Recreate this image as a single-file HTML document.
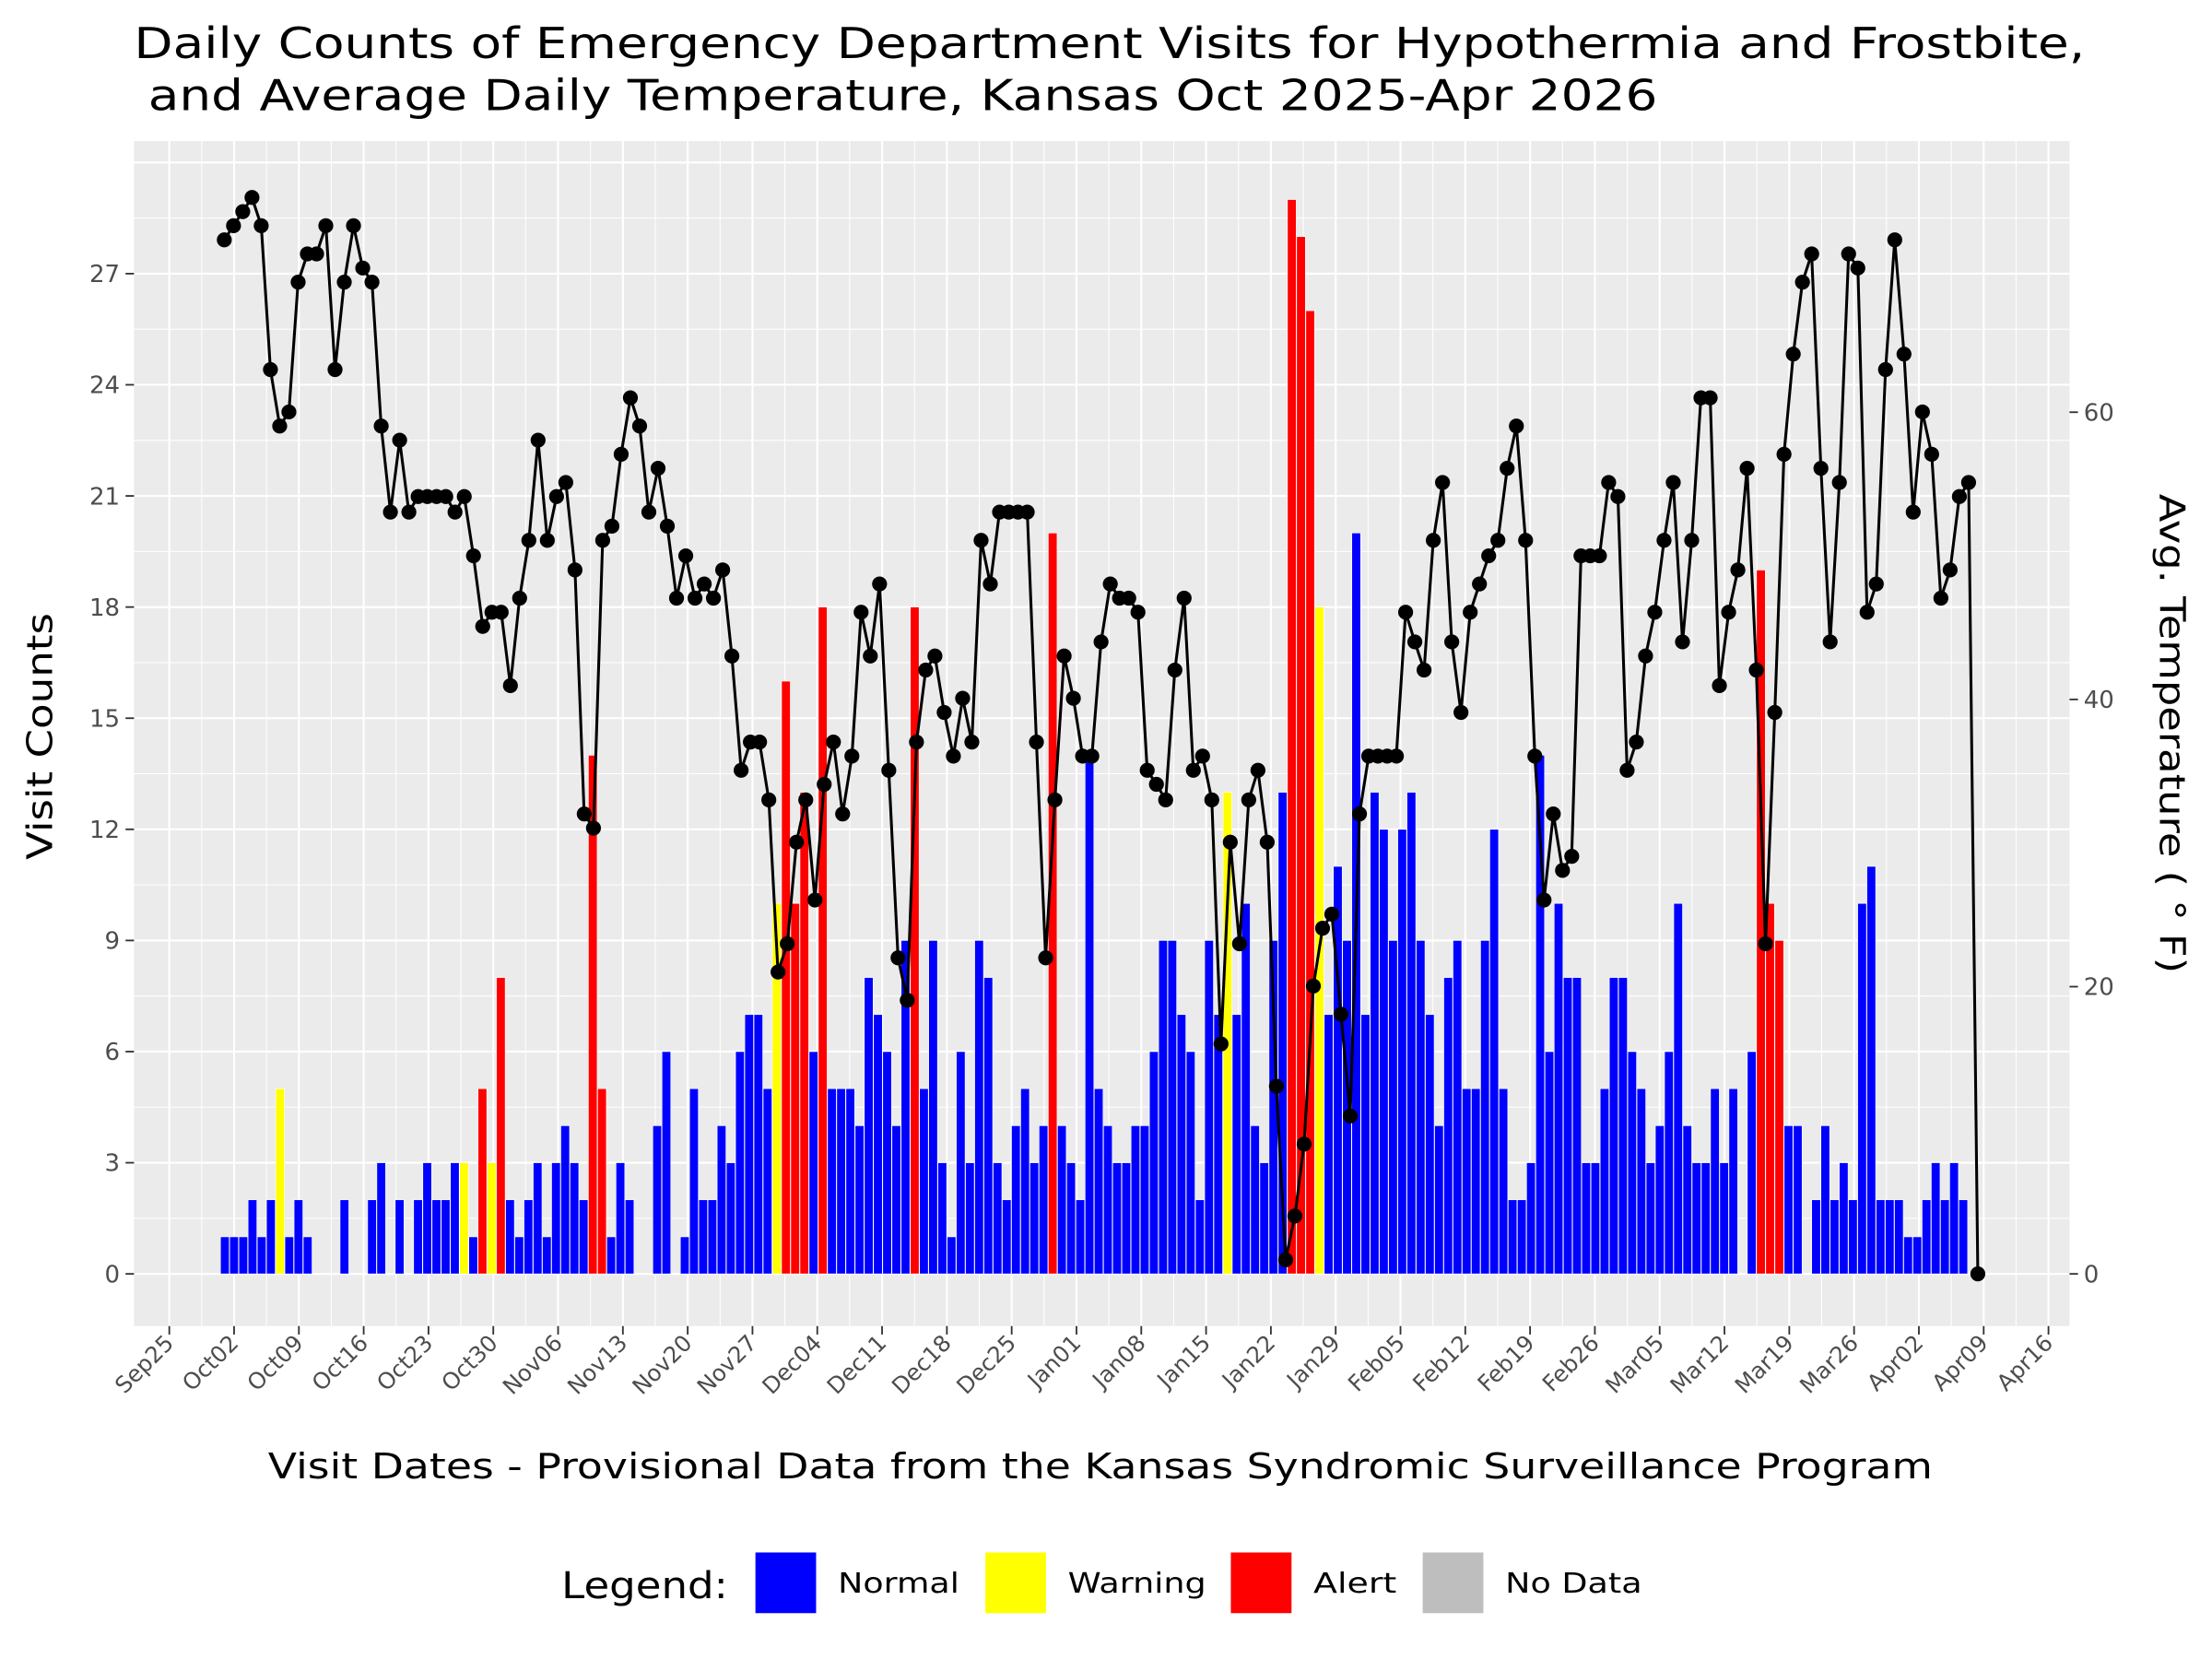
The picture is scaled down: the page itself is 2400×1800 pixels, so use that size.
<!DOCTYPE html>
<html><head><meta charset="utf-8"><style>
html,body{margin:0;padding:0;background:#fff;}
svg{display:block;font-family:"DejaVu Sans","Liberation Sans",sans-serif;}
</style></head><body>
<svg id="s" width="2400" height="1800" viewBox="0 0 1568 1176" xmlns="http://www.w3.org/2000/svg">
<rect width="1568" height="1176" fill="#fff"/>
<text x="95" y="41" font-size="30" fill="#000" textLength="1383" lengthAdjust="spacingAndGlyphs">Daily Counts of Emergency Department Visits for Hypothermia and Frostbite,</text>
<text x="105" y="78" font-size="30" fill="#000" textLength="1070" lengthAdjust="spacingAndGlyphs">and Average Daily Temperature, Kansas Oct 2025-Apr 2026</text>
<rect x="95" y="100" width="1372" height="840" fill="#EBEBEB"/>
<g id="grid"></g>
<g id="bars"></g>
<g id="line"></g>
<g id="axes"></g>
<text transform="translate(37,522) rotate(-90)" font-size="25" text-anchor="middle" fill="#000" textLength="175" lengthAdjust="spacingAndGlyphs">Visit Counts</text>
<text transform="translate(1531,520) rotate(90)" font-size="25" text-anchor="middle" fill="#000" textLength="340" lengthAdjust="spacingAndGlyphs">Avg. Temperature ( ° F)</text>
<text x="190" y="1048" font-size="25" fill="#000" textLength="1180" lengthAdjust="spacingAndGlyphs">Visit Dates - Provisional Data from the Kansas Syndromic Surveillance Program</text>
<text x="398" y="1133" font-size="26" fill="#000" textLength="118" lengthAdjust="spacingAndGlyphs">Legend:</text>
<rect x="535" y="1100" width="44" height="44" fill="#0000FF" stroke="#fff"/>
<text x="594" y="1129" font-size="20" fill="#000" textLength="86" lengthAdjust="spacingAndGlyphs">Normal</text>
<rect x="698" y="1100" width="44" height="44" fill="#FFFF00" stroke="#fff"/>
<text x="757" y="1129" font-size="20" fill="#000" textLength="98" lengthAdjust="spacingAndGlyphs">Warning</text>
<rect x="872" y="1100" width="44" height="44" fill="#FF0000" stroke="#fff"/>
<text x="931" y="1129" font-size="20" fill="#000" textLength="59" lengthAdjust="spacingAndGlyphs">Alert</text>
<rect x="1008" y="1100" width="44" height="44" fill="#BEBEBE" stroke="#fff"/>
<text x="1067" y="1129" font-size="20" fill="#000" textLength="97" lengthAdjust="spacingAndGlyphs">No Data</text>
</svg>
<script>
var NS="http://www.w3.org/2000/svg";
function el(p,t,a,txt){var e=document.createElementNS(NS,t);for(var k in a)e.setAttribute(k,a[k]);if(txt!=null)e.textContent=txt;document.getElementById(p).appendChild(e);return e;}
var y0=903,uy=26.26,X0=120,dx=6.562;
for(var v=-1.5;v<=30;v+=1.5){var y=y0-v*uy;if(y<100||y>940)continue;var major=(Math.abs(v%3)<0.01);
el("grid","line",{x1:95,x2:1467,y1:y,y2:y,stroke:"#fff","stroke-width":major?1.4:0.7});}
var labs=["Sep25","Oct02","Oct09","Oct16","Oct23","Oct30","Nov06","Nov13","Nov20","Nov27","Dec04","Dec11","Dec18","Dec25","Jan01","Jan08","Jan15","Jan22","Jan29","Feb05","Feb12","Feb19","Feb26","Mar05","Mar12","Mar19","Mar26","Apr02","Apr09","Apr16"];
for(var i=0;i<labs.length;i++){var x=X0+i*7*dx;
el("grid","line",{x1:x,x2:x,y1:100,y2:940,stroke:"#fff","stroke-width":1.4});
if(i<labs.length-1){var xm=x+3.5*dx;el("grid","line",{x1:xm,x2:xm,y1:100,y2:940,stroke:"#fff","stroke-width":0.7});}
el("axes","line",{x1:x,x2:x,y1:940,y2:946,stroke:"#333","stroke-width":1.2});
el("axes","text",{transform:"translate("+(x+4)+",953) rotate(-45)","font-size":16,"text-anchor":"end",fill:"#4D4D4D"},labs[i]);}
for(var v=0;v<=27;v+=3){var y=y0-v*uy;
el("axes","line",{x1:89,x2:95,y1:y,y2:y,stroke:"#333","stroke-width":1.2});
el("axes","text",{x:85,y:y+6,"font-size":17,"text-anchor":"end",fill:"#4D4D4D"},v);}
for(var t=0;t<=60;t+=20){var y=y0-t*10.18;
el("axes","line",{x1:1467,x2:1473,y1:y,y2:y,stroke:"#333","stroke-width":1.2});
el("axes","text",{x:1477,y:y+6,"font-size":17,fill:"#4D4D4D"},t);}
var B="1,1,1,2,1,2,5y,1,2,1,0,0,0,2,0,0,2,3,0,2,0,2,3,2,2,3,3y,1,5r,3y,8r,2,1,2,3,1,3,4,3,2,14r,5r,1,3,2,0,0,4,6,0,1,5,2,2,4,3,6,7,7,5,10y,16r,10r,13r,6,18r,5,5,5,4,8,7,6,4,9,18r,5,9,3,1,6,3,9,8,3,2,4,5,3,4,20r,4,3,2,14,5,4,3,3,4,4,6,9,9,7,6,2,9,7,13y,7,10,4,3,9,13,29r,28r,26r,18y,7,11,9,20,7,13,12,9,12,13,9,7,4,8,9,5,5,9,12,5,2,2,3,14,6,10,8,8,3,3,5,8,8,6,5,3,4,6,10,4,3,3,5,3,5,0,6,19r,10r,9r,4,4,0,2,4,2,3,2,10,11,2,2,2,1,1,2,3,2,3,2".split(",");
for(var d=0;d<B.length;d++){var s=B[d],c="#0000FF";if(s.slice(-1)=="y"){c="#FFFF00";s=s.slice(0,-1);}else if(s.slice(-1)=="r"){c="#FF0000";s=s.slice(0,-1);}
var v=+s;if(!v)continue;var cx=159.4+d*6.52;
el("bars","rect",{x:cx-3.1,y:y0-v*uy,width:6.2,height:v*uy,fill:c,stroke:"#fff","stroke-width":0.4});}
var T=[170,160,150,140,160,262,302,292,200,180,180,160,262,200,160,190,200,302,363,312,363,352,352,352,352,363,352,394,444,434,434,486,424,383,312,383,352,342,404,577,587,383,373,322,282,302,363,332,373,424,394,424,414,424,404,465,546,526,526,567,689,669,597,567,638,556,526,577,536,434,465,414,546,679,709,526,475,465,505,536,495,526,383,414,363,363,363,363,526,679,567,465,495,536,536,455,414,424,424,434,546,556,567,475,424,546,536,567,740,597,669,567,546,597,770,893,862,811,699,658,648,719,791,577,536,536,536,536,434,455,475,383,342,455,505,434,414,394,383,332,302,383,536,638,577,617,607,394,394,394,342,352,546,526,465,434,383,342,455,383,282,282,486,434,404,332,475,669,505,322,251,200,180,332,455,342,180,190,434,414,262,170,251,363,292,322,424,404,352,342,903];
var n=T.length,st=(1402-159)/(n-1),pts=[];
for(var i=0;i<n;i++){pts.push((159+i*st).toFixed(1)+","+T[i]);}
el("line","polyline",{points:pts.join(" "),fill:"none",stroke:"#000","stroke-width":2});
for(var i=0;i<n;i++){el("line","circle",{cx:159+i*st,cy:T[i],r:5.3,fill:"#000"});}
</script>
</body></html>
